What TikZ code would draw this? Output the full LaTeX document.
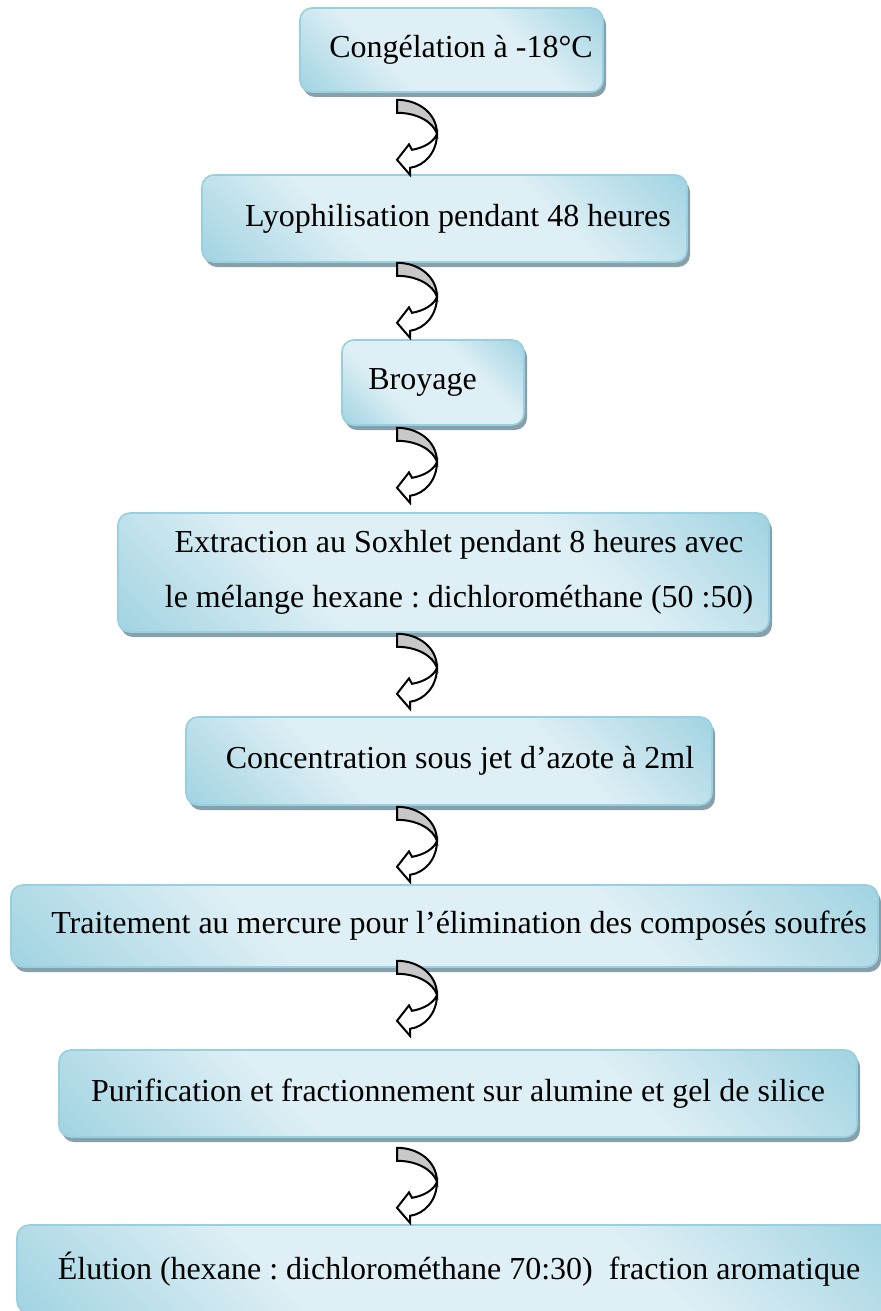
\documentclass[tikz,border=0pt]{standalone}
\usepackage{fontspec}
\setmainfont{Liberation Serif}
\frenchspacing
\usetikzlibrary{shadows,calc}
\definecolor{boxlight}{RGB}{222,239,245}
\definecolor{boxdark}{RGB}{142,203,220}
\definecolor{boxedge}{RGB}{150,208,225}
\definecolor{boxshadow}{RGB}{135,160,170}
\definecolor{backgray}{RGB}{200,200,200}
\pgfdeclareverticalshading{gem}{100bp}{color(0bp)=(boxdark); color(8bp)=(boxdark); color(36bp)=(boxlight); color(64bp)=(boxlight); color(92bp)=(boxdark); color(100bp)=(boxdark)}

\begin{document}
\begin{tikzpicture}[x=1pt,y=-1pt,
  stepbox/.style={draw=boxedge, line width=0.8pt, rounded corners=6pt, shade, shading=gem, shading angle=-45,
    drop shadow={shadow xshift=1.5pt, shadow yshift=-2.5pt, fill=boxshadow, opacity=1},
    font=\fontsize{16}{27.5}\selectfont, align=center, inner sep=0pt},
  bendarrow/.pic={
    \draw[line width=1pt, fill=backgray] (0,0) .. controls (11,0) and (20,7) .. (20,17) .. controls (18,11) and (10,6.5) .. (0,6.5) -- cycle;
    \draw[line width=1pt, fill=white] (20,17) .. controls (20,26) and (14,33) .. (6.5,34) -- (6.5,37.5) -- (0,30) -- (6,22.3) -- (7.5,25) .. controls (13.5,24) and (18.5,21) .. (20,17) -- cycle;
  }]
\path[use as bounding box, fill=white] (0,0) rectangle (440.5,655.5);
\coordinate (ax) at (198.5,0);
\node[stepbox, minimum width=151.5pt, minimum height=42pt] (cong) at (225.75,25) {\hspace*{9.5pt}Congélation à -18°C};
\node[stepbox, minimum width=242.5pt, minimum height=43.5pt] (lyo) at (222.25,109.25) {\hspace*{13.5pt}Lyophilisation pendant 48 heures};
\node[stepbox, minimum width=91pt, minimum height=42.5pt] (broy) at (216.5,191.25) {Broyage\hspace*{10.5pt}};
\node[stepbox, minimum width=325.5pt, minimum height=59.5pt] (extr) at (221.75,286.25) {\hspace*{15.5pt}Extraction au Soxhlet pendant 8 heures avec\\\hspace*{15.5pt}le mélange hexane : dichlorométhane (50 :50)};
\node[stepbox, minimum width=263pt, minimum height=44pt] (conc) at (224.5,380.5) {\hspace*{11pt}Concentration sous jet d’azote à 2ml};
\node[stepbox, minimum width=433.5pt, minimum height=41pt] (trait) at (222.25,463) {\hspace*{14.5pt}Traitement au mercure pour l’élimination des composés soufrés};
\node[stepbox, minimum width=399pt, minimum height=43.5pt] (puri) at (229,546.75) {Purification et fractionnement sur alumine et gel de silice};
\node[stepbox, minimum width=442pt, minimum height=44pt] (elu) at (229.5,634.5) {Élution (hexane : dichlorométhane 70:30)~ fraction aromatique};
\foreach \src/\dy in {cong/3.5, lyo/0, broy/1, extr/0.5, conc/0.5, trait/-3.5, puri/5}
  \pic at ($(\src.south -| ax)+(0,\dy)$) {bendarrow};
\end{tikzpicture}
\end{document}
